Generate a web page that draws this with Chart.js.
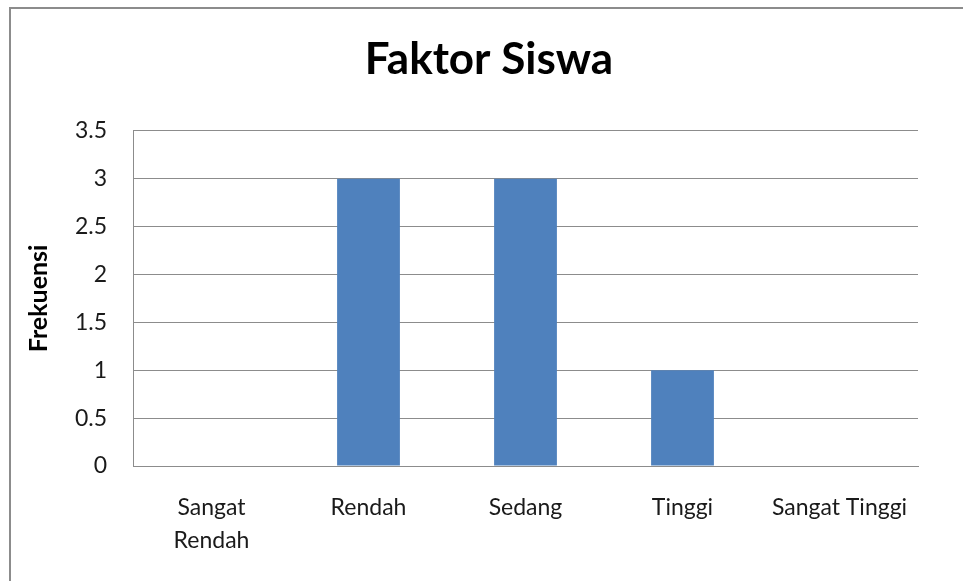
<!DOCTYPE html>
<html>
<head>
<meta charset="utf-8">
<script src="https://cdn.jsdelivr.net/npm/chart.js@4.4.1/dist/chart.umd.min.js"></script>
<style>
    html, body { margin: 0; padding: 0; background: #fff; }
    #wrap { position: relative; width: 963px; height: 581px; overflow: hidden; }
    #frame { position: absolute; left: 9px; top: 7px; width: 1000px; height: 1000px; border-left: 2px solid #8c8c8c; border-top: 2px solid #8c8c8c; }
    #chart { position: absolute; left: 0; top: 0; }
</style>
</head>
<body>
<div id="wrap">
    <div id="frame"></div>
    <canvas id="chart" width="963" height="581"></canvas>
</div>
<script>
const categories = ['Sangat Rendah', 'Rendah', 'Sedang', 'Tinggi', 'Sangat Tinggi'];
const tickLabels = [['Sangat', 'Rendah'], 'Rendah', 'Sedang', 'Tinggi', 'Sangat Tinggi'];
const frekuensi = [0, 3, 3, 1, 0];
const yTicks = [0, 0.5, 1, 1.5, 2, 2.5, 3, 3.5];

const textColor = '#1a1a1a';
const fontFamily = 'Lato, "Open Sans", sans-serif';

// title is centred on the whole frame, not on the plot
const shiftTitle = {
    id: 'shiftTitle',
    afterLayout(chart) {
        const t = chart.titleBlock;
        if (t) { t.left = 30; t.right = 948; }
    }
};

new Chart(document.getElementById('chart'), {
    type: 'bar',
    data: {
        labels: tickLabels,
        datasets: [{
            label: 'Frekuensi',
            data: frekuensi,
            backgroundColor: '#4f81bd',
            borderWidth: 0,
            barPercentage: 0.4,
            categoryPercentage: 1
        }]
    },
    plugins: [shiftTitle],
    options: {
        responsive: false,
        animation: false,
        layout: { padding: { left: 0, right: 45, top: 0, bottom: 0 } },
        plugins: {
            legend: { display: false },
            tooltip: { enabled: false },
            title: {
                display: true,
                text: 'Faktor Siswa',
                color: '#000',
                font: { family: fontFamily, size: 44, weight: 'bold', lineHeight: 1.2 },
                padding: { top: 33, bottom: 45 }
            }
        },
        scales: {
            x: {
                grid: { display: false, drawTicks: false },
                border: { display: true, color: '#8c8c8c', width: 1 },
                ticks: {
                    color: textColor,
                    padding: 25,
                    maxRotation: 0,
                    autoSkip: false,
                    font: { family: fontFamily, size: 23, lineHeight: 1.43 }
                },
                afterFit: function(scale) { scale.height = 115; }
            },
            y: {
                min: 0,
                max: 3.5,
                afterBuildTicks: function(scale) {
                    scale.ticks = yTicks.map(v => ({ value: v }));
                },
                grid: { color: '#8c8c8c', lineWidth: 1, drawTicks: false },
                border: { display: true, color: '#8c8c8c', width: 1 },
                ticks: {
                    color: textColor,
                    padding: 26,
                    font: { family: fontFamily, size: 23 },
                    callback: function(value) { return String(value); }
                },
                title: {
                    display: true,
                    text: 'Frekuensi',
                    color: '#000',
                    font: { family: fontFamily, size: 25, weight: 'bold' },
                    padding: { top: 24, bottom: 0 }
                },
                afterFit: function(scale) { scale.width = 133; }
            }
        }
    }
});
</script>
</body>
</html>
